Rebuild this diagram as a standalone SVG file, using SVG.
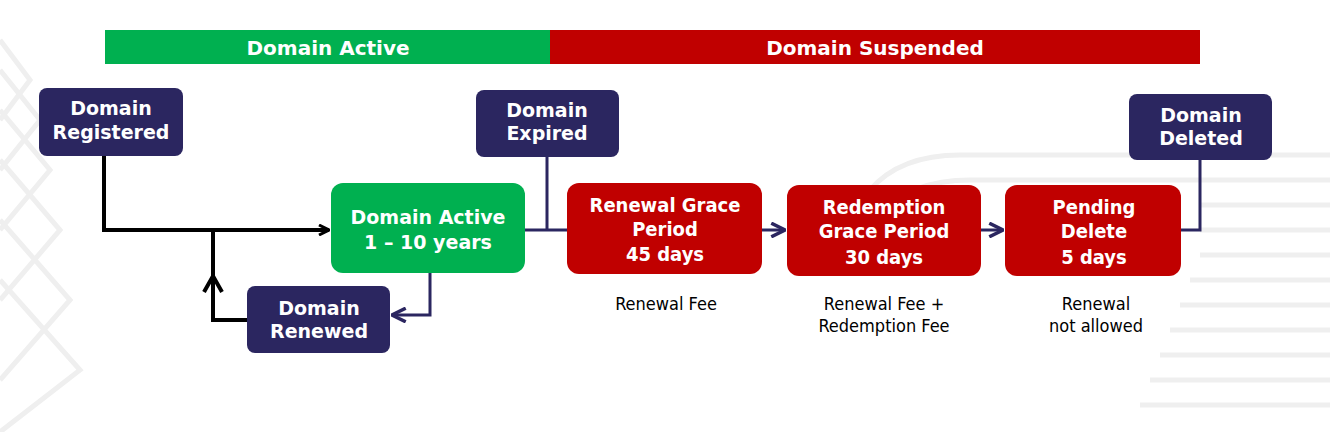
<svg xmlns="http://www.w3.org/2000/svg" width="1330" height="432" viewBox="0 0 1330 432">
<style>
.nv{fill:#2b2660}.rd{fill:#c00000}.gr{fill:#00b050}
.t{font-family:"DejaVu Sans",sans-serif;font-weight:bold;font-size:19px;fill:#fff;text-anchor:middle}
.tb{font-family:"DejaVu Sans",sans-serif;font-weight:bold;font-size:20px;fill:#fff;text-anchor:middle}
.tc{font-family:"DejaVu Sans Condensed","DejaVu Sans",sans-serif;font-weight:bold;font-size:20px;fill:#fff;text-anchor:middle}
.n{font-family:"DejaVu Sans Condensed","DejaVu Sans",sans-serif;font-size:18px;fill:#000;text-anchor:middle}
.bk{stroke:#000;stroke-width:4;fill:none}
.nl{stroke:#2b2660;stroke-width:3;fill:none}
.bg{stroke:#efefef;stroke-width:5;fill:none}
</style>
<defs>
<marker id="ab" viewBox="0 0 12 12" refX="11" refY="6" markerWidth="12" markerHeight="12" markerUnits="userSpaceOnUse" orient="auto"><path d="M1,1 L11,6 L1,11" fill="none" stroke="#000" stroke-width="3"/></marker>
<marker id="an" viewBox="0 0 14 14" refX="13" refY="7" markerWidth="16" markerHeight="16" markerUnits="userSpaceOnUse" orient="auto"><path d="M1,1 L13,7 L1,13" fill="none" stroke="#2b2660" stroke-width="3"/></marker>
</defs>
<rect width="1330" height="432" fill="#fff"/>
<g id="background">
<path class="bg" d="M0,40 L30,80 L0,120 M0,70 L40,120 L0,170 M0,110 L50,170 L0,230 M0,160 L60,230 L0,300 M0,220 L70,300 L0,380 M0,280 L80,370 L0,432"/>
<path class="bg" d="M870,190 Q900,155 960,155 L1330,155 M880,215 Q910,180 970,180 L1330,180 M1200,205 L1330,205 M1200,230 L1330,230 M1200,255 L1330,255 M1190,280 L1330,280 M1180,305 L1330,305 M1170,330 L1330,330 M1160,355 L1330,355 M1150,380 L1330,380 M1140,405 L1330,405"/>
</g>
<g id="bars">
<rect x="105" y="30" width="445" height="34" class="gr"/>
<rect x="550" y="30" width="650" height="34" class="rd"/>
<text x="328" y="55" class="tb">Domain Active</text>
<text x="875" y="55" class="tb">Domain Suspended</text>
</g>
<g id="connectors">
<path class="bk" d="M104,156 L104,230 L329,230" marker-end="url(#ab)"/>
<path class="bk" d="M247,320 L213,320 L213,230"/>
<path class="bk" d="M204,292 L213,276 L222,292"/>
<path class="nl" d="M430,273 L430,315 L392,315" marker-end="url(#an)"/>
<path class="nl" d="M525,230 L567,230 M547,157 L547,230"/>
<path class="nl" d="M762,230 L785,230" marker-end="url(#an)"/>
<path class="nl" d="M981,230 L1003,230" marker-end="url(#an)"/>
<path class="nl" d="M1181,230 L1200,230 L1200,160"/>
</g>
<g id="registered"><rect x="39" y="88" width="144" height="68" rx="8" class="nv"/><text x="111" y="115" class="t">Domain</text><text x="111" y="139" class="t">Registered</text></g>
<g id="expired"><rect x="476" y="90" width="143" height="67" rx="8" class="nv"/><text x="547" y="117" class="t">Domain</text><text x="547" y="140" class="t">Expired</text></g>
<g id="deleted"><rect x="1129" y="94" width="143" height="66" rx="8" class="nv"/><text x="1201" y="122" class="t">Domain</text><text x="1201" y="145" class="t">Deleted</text></g>
<g id="renewed"><rect x="247" y="286" width="143" height="67" rx="8" class="nv"/><text x="319" y="315" class="t">Domain</text><text x="319" y="338" class="t">Renewed</text></g>
<g id="active"><rect x="331" y="183" width="194" height="90" rx="12" class="gr"/><text x="428" y="224" class="t">Domain Active</text><text x="428" y="249" class="t">1 – 10 years</text></g>
<g id="rgp"><rect x="567" y="183" width="195" height="91" rx="12" class="rd"/><text x="665" y="212" class="tc">Renewal Grace</text><text x="665" y="236" class="tc">Period</text><text x="665" y="261" class="tc">45 days</text><text x="666" y="310" class="n">Renewal Fee</text></g>
<g id="redemption"><rect x="787" y="185" width="194" height="91" rx="12" class="rd"/><text x="884" y="214" class="tc">Redemption</text><text x="884" y="238" class="tc">Grace Period</text><text x="884" y="264" class="tc">30 days</text><text x="884" y="310" class="n">Renewal Fee +</text><text x="884" y="332" class="n">Redemption Fee</text></g>
<g id="pending"><rect x="1005" y="185" width="176" height="91" rx="12" class="rd"/><text x="1094" y="214" class="tc">Pending</text><text x="1094" y="238" class="tc">Delete</text><text x="1094" y="264" class="tc">5 days</text><text x="1096" y="310" class="n">Renewal</text><text x="1096" y="332" class="n">not allowed</text></g>
</svg>
